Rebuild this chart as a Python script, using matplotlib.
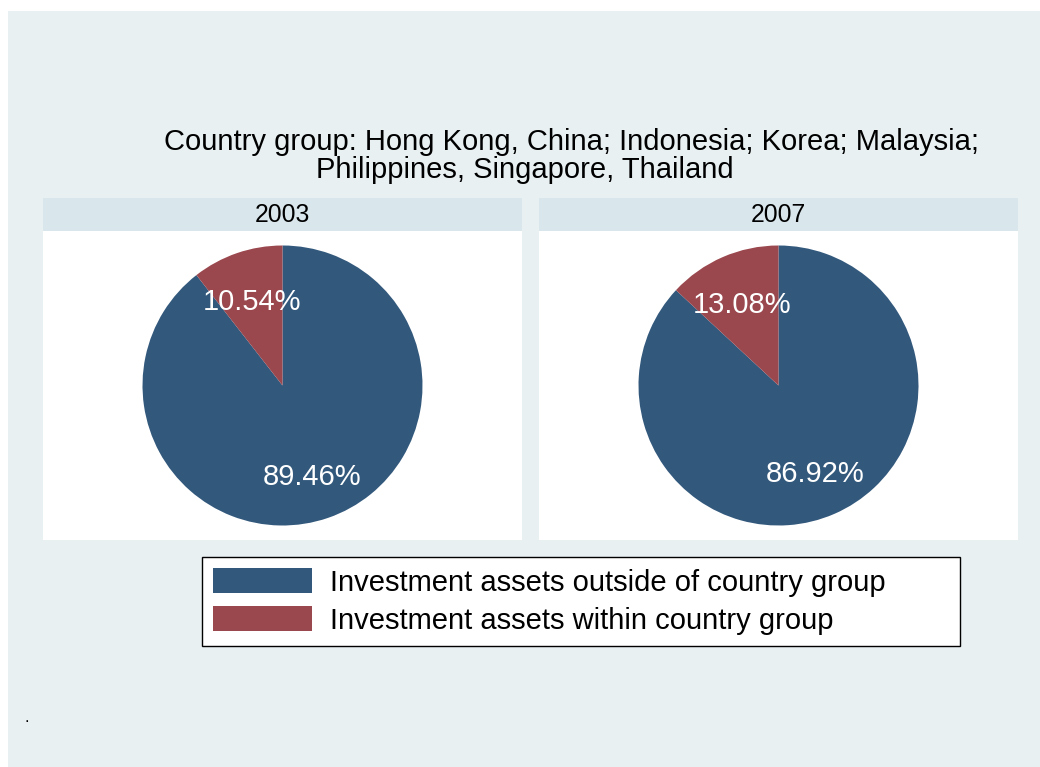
import matplotlib
matplotlib.use("Agg")
import matplotlib.pyplot as plt
from matplotlib.patches import Patch, Rectangle
from matplotlib.transforms import ScaledTranslation

plt.rcParams['font.family'] = ['Liberation Sans', 'DejaVu Sans']

# data
years = ['2003', '2007']
outside = [89.46, 86.92]
within = [10.54, 13.08]
series_labels = ['Investment assets outside of country group',
                 'Investment assets within country group']
title_lines = ['Country group: Hong Kong, China; Indonesia; Korea; Malaysia;',
               'Philippines, Singapore, Thailand']

blue = '#32587c'
red = '#9a474e'
bg = '#e8f0f2'
strip = '#d9e6eb'

W, H = 1040, 767
fig = plt.figure(figsize=(W / 100, H / 100), dpi=100, facecolor='white')

def fx(x):
    return x / W

def fy(y):
    return 1 - y / H

# outer light background
fig.patches.append(Rectangle((fx(8), 0), 1 - fx(8), fy(11), transform=fig.transFigure,
                             facecolor=bg, edgecolor='none', zorder=-10))

# title
fig.text(fx(571), fy(150), title_lines[0], ha='center', va='baseline', fontsize=21)
fig.text(fx(525), fy(178), title_lines[1], ha='center', va='baseline', fontsize=21)

panel_x = [43, 539]
panel_w = 479
r_px = 140
for i, yr in enumerate(years):
    x0 = panel_x[i]
    # strip header
    sax = fig.add_axes([fx(x0), fy(231), panel_w / W, 33 / H])
    sax.set_facecolor(strip)
    sax.set_xticks([])
    sax.set_yticks([])
    for s in sax.spines.values():
        s.set_visible(False)
    sax.text(0.5, 0.27, yr, transform=sax.transAxes, ha='center', va='baseline', fontsize=17.8)

    ax = fig.add_axes([fx(x0), fy(540), panel_w / W, 309 / H])
    ax.set_facecolor('white')
    wedges, texts, autotexts = ax.pie([outside[i], within[i]], colors=[blue, red],
                                      startangle=90, counterclock=False,
                                      autopct='%.2f%%', pctdistance=0.66, frame=True,
                                      wedgeprops=dict(edgecolor='none'),
                                      textprops=dict(color='white', fontsize=21))
    for t in autotexts:
        t.set_transform(t.get_transform() + ScaledTranslation(0, -4 / 100, fig.dpi_scale_trans))
    ax.set_xlim(-(panel_w / 2) / r_px, (panel_w / 2) / r_px)
    ax.set_ylim(-(309 / 2) / r_px, (309 / 2) / r_px)
    ax.set_xticks([])
    ax.set_yticks([])
    for s in ax.spines.values():
        s.set_visible(False)

handles = [Patch(facecolor=blue, edgecolor='none'), Patch(facecolor=red, edgecolor='none')]
leg = fig.legend(handles, series_labels, loc='upper left',
                 bbox_to_anchor=(fx(202), fy(643), 758 / W, 86 / H), mode='expand',
                 borderaxespad=0, fontsize=21, handlelength=3.39, handleheight=0.96,
                 labelspacing=0.31, handletextpad=0.62, borderpad=0.38,
                 fancybox=False, framealpha=1, edgecolor='black')
leg.get_frame().set_linewidth(1.0)

fig.text(fx(25), fy(722), '.', fontsize=12)

fig.savefig('out.png', dpi=100, facecolor='white')
